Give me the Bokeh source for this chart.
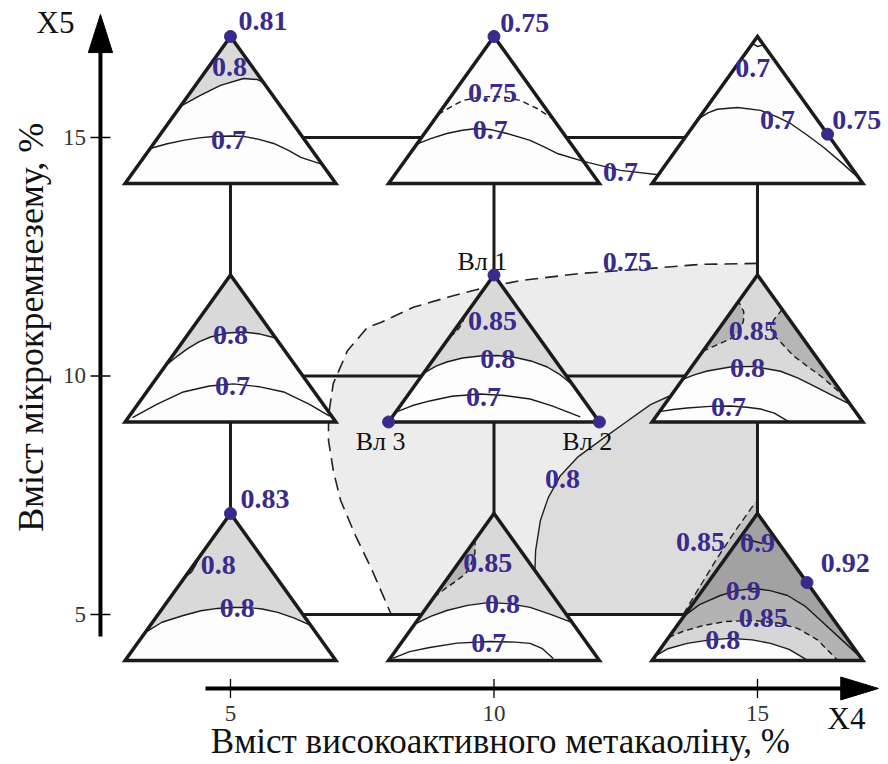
import numpy as np
from bokeh.plotting import figure
from bokeh.models import Range1d
from bokeh.core.properties import value
from bokeh.embed import file_html
from bokeh.resources import INLINE

# ---------------- data ----------------
x4_ticks = [5, 10, 15]
x4_tick_labels = ["5", "10", "15"]
x5_ticks = [5, 10, 15]
x5_tick_labels = ["5", "10", "15"]
x_title = "Вміст високоактивного метакаоліну, %"
y_title = "Вміст мікрокремнезему, %"
x_name = "X4"
y_name = "X5"

cell_x4 = [5, 10, 15]          # triangle centres (X4, %)
cell_x5 = [5, 10, 15]          # triangle centres (X5, %)

# response zones in the X4-X5 plane
zone075_x4 = [15.0, 13.92, 12.91, 11.64, 10.50, 9.74, 9.12, 8.47, 7.85, 7.60, 7.22,
              6.95, 6.86, 6.86, 6.95, 7.09, 7.37, 7.69, 8.05]
zone075_x5 = [12.36, 12.34, 12.25, 12.15, 12.00, 11.83, 11.65, 11.44, 11.12, 11.02, 10.53,
              9.84, 9.17, 8.65, 8.02, 7.39, 6.66, 5.92, 5.0]
zone08_x4 = [10.79, 10.77, 10.79, 10.88, 11.03, 11.26, 11.60, 12.02, 12.50, 12.97, 13.31, 13.92, 15.0]
zone08_x5 = [5.0, 5.71, 6.34, 6.97, 7.45, 7.91, 8.31, 8.65, 9.03, 9.40, 9.57, 9.70, 9.74]
zone085_x4 = [13.60, 13.86, 14.24, 14.62, 14.96]
zone085_x5 = [5.02, 5.50, 6.19, 6.82, 7.35]
iso07_x4 = [11.70, 12.40, 13.12]
iso07_x5 = [14.50, 14.31, 14.22]

# contours inside the simplex triangles (u: -1..1 across, v: 0 base .. 1 apex)
tl08_u = [-0.476, -0.286, -0.095, 0.124, 0.257, 0.314]
tl08_v = [0.524, 0.599, 0.667, 0.714, 0.707, 0.686]
tl07_u = [-0.762, -0.6, -0.448, -0.3, -0.162, 0.0, 0.124, 0.27, 0.41, 0.55, 0.667, 0.87]
tl07_v = [0.238, 0.27, 0.293, 0.31, 0.32, 0.323, 0.32, 0.30, 0.272, 0.225, 0.177, 0.13]

tm075_u = [-0.53, -0.4, -0.295, -0.15, -0.01, 0.12, 0.248, 0.41, 0.562]
tm075_v = [0.47, 0.525, 0.565, 0.585, 0.592, 0.585, 0.565, 0.51, 0.438]
tm07_u = [-0.733, -0.6, -0.448, -0.3, -0.162, -0.02, 0.124, 0.343, 0.47, 0.6, 0.85]
tm07_v = [0.267, 0.305, 0.34, 0.362, 0.374, 0.365, 0.34, 0.293, 0.25, 0.204, 0.15]

trtop_u = [-0.048, 0.0, 0.057]
trtop_v = [0.952, 0.932, 0.943]
tr07_u = [-0.56, -0.47, -0.381, -0.19, 0.029, 0.18, 0.314, 0.47, 0.629, 0.8, 0.97]
tr07_v = [0.44, 0.48, 0.505, 0.517, 0.497, 0.455, 0.408, 0.33, 0.245, 0.14, 0.03]

ml08_u = [-0.619, -0.5, -0.41, -0.3, -0.19, -0.03, 0.124, 0.28, 0.429]
ml08_v = [0.381, 0.45, 0.497, 0.545, 0.578, 0.605, 0.612, 0.598, 0.571]
ml07_u = [-0.93, -0.7, -0.448, -0.2, 0.029, 0.27, 0.505, 0.75, 0.94]
ml07_v = [0.03, 0.12, 0.204, 0.245, 0.259, 0.24, 0.204, 0.12, 0.04]

mm08_u = [-0.67, -0.55, -0.448, -0.3, -0.133, 0.03, 0.181, 0.35, 0.505, 0.63, 0.75]
mm08_v = [0.33, 0.38, 0.408, 0.435, 0.449, 0.452, 0.442, 0.415, 0.374, 0.32, 0.25]
mm085_u = [-0.42, -0.36, -0.31, -0.27]
mm085_v = [0.58, 0.61, 0.66, 0.73]
mm07_u = [-0.924, -0.78, -0.61, -0.4, -0.133, 0.1, 0.343, 0.55, 0.819]
mm07_v = [0.068, 0.11, 0.143, 0.175, 0.19, 0.18, 0.156, 0.11, 0.034]

mr08_u = [-0.71, -0.6, -0.476, -0.257, -0.038, 0.219, 0.38, 0.533, 0.7, 0.88]
mr08_v = [0.29, 0.32, 0.347, 0.374, 0.378, 0.345, 0.30, 0.245, 0.185, 0.12]
mr085a_u = [-0.52, -0.4, -0.257, -0.17, -0.133, -0.13, -0.18]
mr085a_v = [0.48, 0.52, 0.565, 0.62, 0.687, 0.75, 0.82]
mr085b_u = [0.235, 0.16, 0.124, 0.14, 0.19, 0.343, 0.47, 0.6, 0.75, 0.88]
mr085b_v = [0.765, 0.70, 0.653, 0.60, 0.565, 0.449, 0.38, 0.313, 0.22, 0.12]
mr07_u = [-0.93, -0.8, -0.667, -0.45, -0.257, -0.1, 0.029, 0.16, 0.3]
mr07_v = [0.07, 0.085, 0.095, 0.106, 0.109, 0.1, 0.088, 0.06, 0.0]

bl08_u = [-0.81, -0.65, -0.448, -0.28, -0.124, 0.02, 0.162, 0.3, 0.448, 0.6, 0.762]
bl08_v = [0.19, 0.26, 0.306, 0.338, 0.354, 0.36, 0.361, 0.35, 0.327, 0.29, 0.238]
bl08b_u = [-0.29, -0.33, -0.37, -0.43]
bl08b_v = [0.71, 0.65, 0.60, 0.57]

bm08_u = [-0.752, -0.6, -0.448, -0.25, -0.038, 0.15, 0.343, 0.55, 0.743]
bm08_v = [0.248, 0.3, 0.34, 0.375, 0.395, 0.385, 0.361, 0.31, 0.257]
bm085_u = [-0.57, -0.46, -0.352, -0.27, -0.229, -0.181, -0.18]
bm085_v = [0.43, 0.49, 0.544, 0.59, 0.633, 0.728, 0.82]
bm07_u = [-0.962, -0.8, -0.61, -0.35, -0.038, 0.2, 0.343, 0.46, 0.562]
bm07_v = [0.014, 0.06, 0.088, 0.118, 0.129, 0.125, 0.116, 0.08, 0.014]

br08_u = [-0.971, -0.85, -0.667, -0.45, -0.257, -0.05, 0.124, 0.3, 0.476]
br08_v = [0.029, 0.08, 0.116, 0.14, 0.15, 0.14, 0.116, 0.075, 0.0]
br085_u = [-0.844, -0.7, -0.514, -0.3, -0.038, 0.2, 0.381, 0.57, 0.762]
br085_v = [0.156, 0.2, 0.238, 0.265, 0.272, 0.255, 0.218, 0.14, 0.0]
br09_u = [-0.70, -0.55, -0.352, -0.2, -0.038, 0.12, 0.286, 0.45, 0.6, 0.8, 0.98]
br09_v = [0.30, 0.38, 0.442, 0.475, 0.49, 0.475, 0.442, 0.37, 0.272, 0.14, 0.02]
br09b_u = [-0.133, 0.048]
br09b_v = [0.83, 0.796]

# level labels (centred), X4 / X5 positions
lev_x4 = [4.98, 4.96, 9.97, 9.93, 12.40, 14.91, 15.38, 5.0, 5.04, 9.97, 10.07, 9.80,
          14.92, 14.81, 14.45, 4.77, 5.13, 9.88, 10.16, 9.90, 13.92, 15.0, 14.73, 15.11, 14.34,
          12.53, 11.30]
lev_x5 = [16.47, 14.94, 15.94, 15.15, 14.27, 16.45, 15.36, 10.86, 9.79, 11.15, 10.36, 9.55,
          10.95, 10.17, 9.34, 6.03, 5.13, 6.07, 5.23, 4.41, 6.51, 6.49, 5.50, 4.92, 4.46,
          12.38, 7.85]
lev_txt = ["0.8", "0.7", "0.75", "0.7", "0.7", "0.7", "0.7", "0.8", "0.7", "0.85", "0.8", "0.7",
           "0.85", "0.8", "0.7", "0.8", "0.8", "0.85", "0.8", "0.7", "0.85", "0.9", "0.9", "0.85", "0.8",
           "0.75", "0.8"]

# maximum values (dot on triangle + label)
max_cell_x4 = [5, 10, 15, 5, 15]
max_cell_x5 = [15, 15, 15, 5, 5]
max_u = [0.0, 0.0, 0.665, 0.0, 0.47]
max_v = [1.0, 1.0, 0.335, 1.0, 0.53]
max_txt = ["0.81", "0.75", "0.75", "0.83", "0.92"]
max_lab_x4 = [5.15, 10.12, 16.42, 5.19, 16.20]
max_lab_x5 = [17.45, 17.39, 15.36, 7.43, 6.07]

# composition points of the central triangle
pt_u = [0.0, 1.0, -1.0]
pt_v = [1.0, 0.0, 0.0]
pt_names = ["Вл 1", "Вл 2", "Вл 3"]
pt_lab_x4 = [9.78, 11.77, 7.85]
pt_lab_x5 = [12.40, 8.63, 8.63]

# ---------------- geometry / style ----------------
HW, BASE, H = 2.0, -0.964, 3.082
PURPLE = "#3a2a8c"
INK = "#1b1b1b"
SERIF = value("Liberation Serif")


def loc(cx, cy, u, v):
    return list(cx + np.asarray(u, float) * HW), list(cy + BASE + np.asarray(v, float) * H)


def above(cx, cy, u, v, corner=False):
    uu = list(u) + ([1.0] if corner else []) + [0.0]
    vv = list(v) + ([0.0] if corner else []) + [1.0]
    return loc(cx, cy, uu, vv)


p = figure(width=888, height=764, x_range=Range1d(0.636, 17.486), y_range=Range1d(1.855, 17.872),
           output_backend="svg", toolbar_location=None, min_border=0,
           x_axis_location=None, y_axis_location=None, outline_line_color=None,
           background_fill_color="white", border_fill_color="white")
p.xgrid.visible = False
p.ygrid.visible = False

# zones
p.patch(zone075_x4 + [15.0], zone075_x5 + [5.0], fill_color="#ececec", line_color=None)
p.patch(zone08_x4 + [15.0], zone08_x5 + [5.0], fill_color="#dcdcdc", line_color=None)
p.patch(zone085_x4 + [15.0, 15.0], zone085_x5 + [7.35, 5.02], fill_color="#c3c3c3", line_color=None)
p.line(zone075_x4, zone075_x5, line_color="#222222", line_width=1.6, line_dash="13 7")
p.line(zone08_x4, zone08_x5, line_color="#222222", line_width=1.4)
p.line(zone085_x4, zone085_x5, line_color="#222222", line_width=1.4, line_dash="7 4")
p.line(iso07_x4, iso07_x5, line_color="#222222", line_width=1.4)

# frame lines between the triangles
g = cell_x4
p.segment(x0=g, y0=[cell_x5[0]] * 3, x1=g, y1=[cell_x5[-1]] * 3, line_color=INK, line_width=3)
p.segment(x0=[cell_x4[0]] * 3, y0=cell_x5, x1=[cell_x4[-1]] * 3, y1=cell_x5, line_color=INK, line_width=3)

# triangles
txs, tys = [], []
for cy in cell_x5:
    for cx in cell_x4:
        a, b = loc(cx, cy, [-1, 0, 1], [0, 1, 0])
        txs.append(a)
        tys.append(b)
p.patches(txs, tys, fill_color="#fdfdfd", line_color=None)

GRAY, DARK = "#d9d9d9", "#b5b5b5"
shade = [
    (above(5, 15, tl08_u, tl08_v), GRAY),
    (above(5, 10, ml08_u, ml08_v), GRAY),
    (above(10, 10, mm08_u, mm08_v), GRAY),
    (loc(10, 10, mm085_u, mm085_v), DARK),
    (above(15, 10, mr08_u, mr08_v), GRAY),
    (loc(15, 10, mr085a_u, mr085a_v), DARK),
    (loc(15, 10, mr085b_u, mr085b_v), DARK),
    (above(5, 5, bl08_u, bl08_v), GRAY),
    (above(10, 5, bm08_u, bm08_v), GRAY),
    (loc(10, 5, bm085_u, bm085_v), DARK),
    (above(15, 5, br08_u, br08_v, True), "#d6d6d6"),
    (above(15, 5, br085_u, br085_v, True), "#b3b3b3"),
    (above(15, 5, br09_u, br09_v, True), "#a2a2a2"),
]
for (sx, sy), c in shade:
    p.patch(sx, sy, fill_color=c, line_color=None)

solid = [(5, 15, tl08_u, tl08_v), (5, 15, tl07_u, tl07_v), (10, 15, tm07_u, tm07_v),
         (15, 15, trtop_u, trtop_v), (15, 15, tr07_u, tr07_v),
         (5, 10, ml08_u, ml08_v), (5, 10, ml07_u, ml07_v),
         (10, 10, mm08_u, mm08_v), (10, 10, mm07_u, mm07_v),
         (15, 10, mr08_u, mr08_v), (15, 10, mr07_u, mr07_v),
         (5, 5, bl08_u, bl08_v), (5, 5, bl08b_u, bl08b_v),
         (10, 5, bm08_u, bm08_v), (10, 5, bm07_u, bm07_v),
         (15, 5, br08_u, br08_v), (15, 5, br09_u, br09_v), (15, 5, br09b_u, br09b_v)]
dashed = [(10, 15, tm075_u, tm075_v), (10, 10, mm085_u, mm085_v),
          (15, 10, mr085a_u, mr085a_v), (15, 10, mr085b_u, mr085b_v),
          (10, 5, bm085_u, bm085_v), (15, 5, br085_u, br085_v)]
p.multi_line([loc(*s)[0] for s in solid], [loc(*s)[1] for s in solid], line_color="#1a1a1a", line_width=1.4)
p.multi_line([loc(*s)[0] for s in dashed], [loc(*s)[1] for s in dashed], line_color="#1a1a1a",
             line_width=1.4, line_dash="6 4")

p.patches(txs, tys, fill_color=None, line_color=INK, line_width=3.5, line_join="miter")

# axes (drawn as arrows)
AXX, AXY = 2.533, 3.449
p.line([AXX, AXX], [4.54, 16.85], line_color="black", line_width=4)
p.patch([AXX - 0.23, AXX, AXX + 0.23], [16.78, 17.58, 16.78], fill_color="black", line_color="black")
p.line([4.526, 16.65], [AXY, AXY], line_color="black", line_width=4)
p.patch([16.58, 17.296, 16.58], [AXY + 0.24, AXY, AXY - 0.24], fill_color="black", line_color="black")
p.segment(x0=x4_ticks, y0=[AXY - 0.2] * 3, x1=x4_ticks, y1=[AXY + 0.2] * 3, line_color="black", line_width=1.3)
p.segment(x0=[AXX - 0.19] * 3, y0=x5_ticks, x1=[AXX + 0.19] * 3, y1=x5_ticks, line_color="black", line_width=1.3)
p.text(x=x4_ticks, y=[2.93] * 3, text=x4_tick_labels, text_font=SERIF, text_font_size=value("23px"),
       text_color="#333333", text_align="center", text_baseline="middle")
p.text(x=[2.26] * 3, y=x5_ticks, text=x5_tick_labels, text_font=SERIF, text_font_size=value("23px"),
       text_color="#333333", text_align="right", text_baseline="middle")
p.text(x=[16.69], y=[2.82], text=[x_name], text_font=SERIF, text_font_size=value("31px"),
       text_color="#111111", text_align="center", text_baseline="middle")
p.text(x=[1.68], y=[17.41], text=[y_name], text_font=SERIF, text_font_size=value("31px"),
       text_color="#111111", text_align="center", text_baseline="middle")
p.text(x=[10.12], y=[2.33], text=[x_title], text_font=SERIF, text_font_size=value("35px"),
       text_color="#111111", text_align="center", text_baseline="middle")
p.text(x=[1.21], y=[11.02], text=[y_title], text_font=SERIF, text_font_size=value("36px"),
       text_color="#111111", text_align="center", text_baseline="middle", angle=np.pi / 2)

# dots and labels
mx, my = [], []
for cx, cy, u, v in zip(max_cell_x4, max_cell_x5, max_u, max_v):
    a, b = loc(cx, cy, [u], [v])
    mx += a
    my += b
px_, py_ = loc(10, 10, pt_u, pt_v)
p.scatter(mx + px_, my + py_, size=12, fill_color=PURPLE, line_color=PURPLE)

p.text(x=lev_x4, y=lev_x5, text=lev_txt, text_font=SERIF, text_font_size=value("28px"),
       text_font_style="bold", text_color=PURPLE, text_align="center", text_baseline="middle")
p.text(x=max_lab_x4, y=max_lab_x5, text=max_txt, text_font=SERIF, text_font_size=value("28px"),
       text_font_style="bold", text_color=PURPLE, text_align="left", text_baseline="middle")
p.text(x=pt_lab_x4, y=pt_lab_x5, text=pt_names, text_font=SERIF, text_font_size=value("26px"),
       text_color="#111111", text_align="center", text_baseline="middle")

open("out.html", "w").write(file_html(p, INLINE))
